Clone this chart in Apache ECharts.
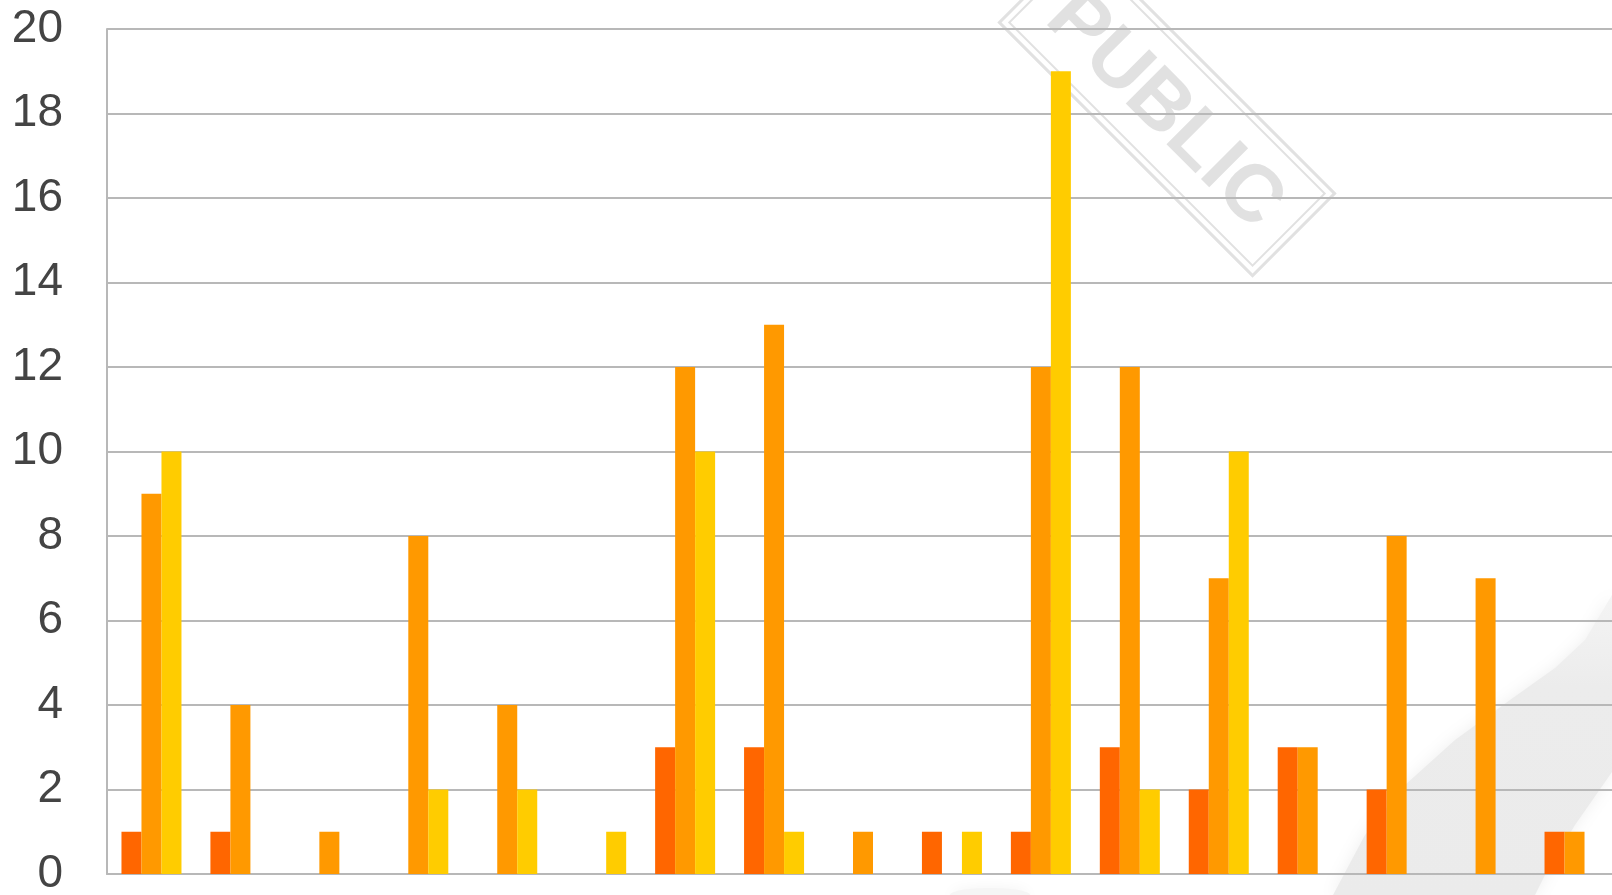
<!DOCTYPE html>
<html>
<head>
<meta charset="utf-8">
<script src="https://cdn.jsdelivr.net/npm/echarts@6/dist/echarts.min.js"></script>
<style>
  html, body { margin: 0; padding: 0; background: #ffffff; overflow: hidden; }
  #chart { width: 1612px; height: 895px; }
</style>
</head>
<body>
<div id="chart"></div>
<script>
// Seventeen groups, three series each
const categories = ['1', '2', '3', '4', '5', '6', '7', '8', '9', '10', '11', '12', '13', '14', '15', '16', '17'];
const seriesA = [1, 1, 0, 0, 0, 0, 3, 3, 0, 1, 1, 3, 2, 3, 2, 0, 1];
const seriesB = [9, 4, 1, 8, 4, 0, 12, 13, 1, 0, 12, 12, 7, 3, 8, 7, 1];
const seriesC = [10, 0, 0, 2, 2, 1, 10, 1, 0, 1, 19, 2, 10, 0, 0, 0, 0];
const yTicks = [0, 2, 4, 6, 8, 10, 12, 14, 16, 18, 20];

const chart = echarts.init(document.getElementById('chart'), null, { renderer: 'canvas' });

const gridColor = '#b8b8b8';

function barSeries(name, data, color) {
  return {
    name: name,
    type: 'bar',
    data: data,
    barWidth: 20,
    barGap: '0%',
    z: 2,
    itemStyle: { color: color, borderWidth: 0 }
  };
}

chart.setOption({
  backgroundColor: '#ffffff',
  animation: false,
  grid: {
    left: 107, top: 29, bottom: 21, width: 1512,
    containLabel: false,
    outerBoundsMode: 'none'
  },
  xAxis: {
    type: 'category',
    data: categories,
    axisLine: { show: true, lineStyle: { color: gridColor, width: 2 } },
    axisTick: { show: false },
    axisLabel: { show: false },
    splitLine: { show: false }
  },
  yAxis: {
    type: 'value',
    min: yTicks[0],
    max: yTicks[yTicks.length - 1],
    interval: 2,
    axisLine: { show: true, lineStyle: { color: gridColor, width: 2 } },
    axisTick: { show: false },
    axisLabel: {
      margin: 44,
      fontFamily: 'Liberation Sans, Arial, sans-serif',
      fontSize: 46,
      color: '#444444'
    },
    splitLine: { show: true, lineStyle: { color: gridColor, width: 2 } }
  },
  series: [
    barSeries('A', seriesA, '#ff6600'),
    barSeries('B', seriesB, '#ff9900'),
    barSeries('C', seriesC, '#ffcc00')
  ],
  graphic: [
    // soft grey swoosh in the lower right corner
    {
      type: 'polygon',
      z: -10,
      silent: true,
      shape: {
        points: [[1333, 895], [1365, 835], [1405, 785], [1455, 740], [1510, 700],
                 [1555, 668], [1585, 640], [1612, 595], [1612, 772], [1575, 825],
                 [1545, 875], [1535, 895]]
      },
      style: {
        fill: new echarts.graphic.LinearGradient(0, 0, 0, 1, [
          { offset: 0, color: '#f4f4f4' },
          { offset: 0.3, color: '#ececec' },
          { offset: 1, color: '#ebebeb' }
        ]),
        shadowBlur: 16,
        shadowColor: '#efefef'
      }
    },
    {
      type: 'ellipse',
      z: -11,
      silent: true,
      shape: { cx: 990, cy: 895, rx: 40, ry: 7 },
      style: { fill: '#f5f5f5', shadowBlur: 14, shadowColor: '#f3f3f3' }
    },
    // "PUBLIC" stamp
    {
      type: 'group',
      x: 1167,
      y: 108,
      rotation: -Math.PI / 4,
      z: 100,
      silent: true,
      children: [
        {
          type: 'rect',
          shape: { x: -179, y: -58, width: 358, height: 116 },
          style: { fill: 'none', stroke: 'rgba(170,170,170,0.35)', lineWidth: 3 }
        },
        {
          type: 'rect',
          shape: { x: -172, y: -51, width: 344, height: 102 },
          style: { fill: 'none', stroke: 'rgba(170,170,170,0.35)', lineWidth: 2 }
        },
        {
          type: 'text',
          x: 0,
          y: 4,
          style: {
            text: 'PUBLIC',
            fontFamily: 'Liberation Sans, Arial, sans-serif',
            fontWeight: 'bold',
            fontSize: 80,
            fill: 'rgba(170,170,170,0.35)',
            align: 'center',
            verticalAlign: 'middle'
          }
        }
      ]
    }
  ]
});
</script>
</body>
</html>
